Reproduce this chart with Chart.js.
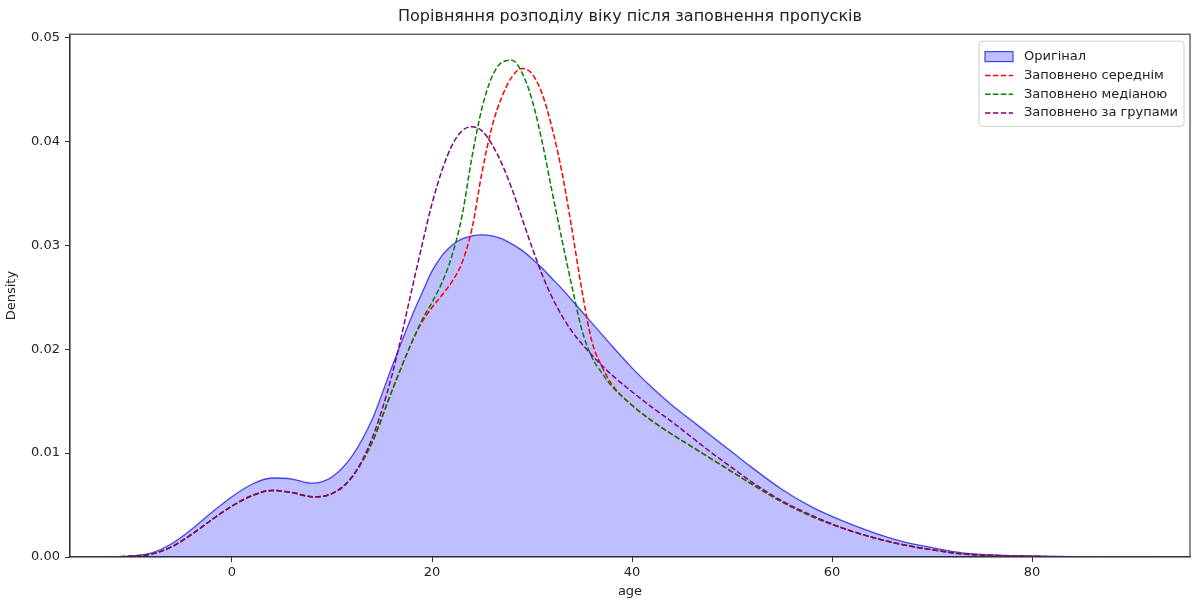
<!DOCTYPE html>
<html>
<head>
<meta charset="utf-8">
<script src="https://cdn.jsdelivr.net/npm/chart.js@4/dist/chart.umd.min.js"></script>
<style>
  html, body { margin: 0; padding: 0; background: #fff; }
  .chart { width: 1195px; height: 600px; }
</style>
</head>
<body>
<div class="chart"><canvas></canvas></div>
<script>
// KDE curves, age vs density
const ages = [-12, -10, -8, -6, -4, -2, 0, 2, 4, 6, 8, 10, 12, 14, 16, 18,
  19, 20, 21, 22, 23, 24, 25, 26, 27, 28, 29, 30, 31, 32, 33, 34, 35, 36, 37, 38,
  40, 42, 44, 46, 48, 50, 52, 55, 58, 61, 64, 67, 70, 73, 76, 80, 84, 88, 92];

const originalDensity = [0, 0.0001, 0.0004, 0.0013, 0.0027, 0.0043, 0.0058, 0.0070, 0.0076, 0.0075, 0.0071, 0.0077, 0.0097, 0.0132, 0.0183, 0.0232,
  0.0254, 0.0275, 0.0290, 0.0300, 0.0306, 0.0309, 0.0310, 0.0309, 0.0306, 0.0301, 0.0295, 0.0287, 0.0278, 0.0268, 0.0258, 0.0247, 0.0236, 0.0225, 0.0214, 0.0203,
  0.0182, 0.0163, 0.0146, 0.0131, 0.0116, 0.0101, 0.0086, 0.0065, 0.0048, 0.0035, 0.0024, 0.0015, 0.0009, 0.0004, 0.0002, 0.0001, 0.00003, 0.00001, 0];

const meanDensity = [0, 0.0001, 0.0003, 0.0010, 0.0022, 0.0036, 0.0049, 0.0059, 0.0064, 0.0062, 0.0058, 0.0061, 0.0077, 0.0110, 0.0160, 0.0207,
  0.0226, 0.0240, 0.0252, 0.0265, 0.0283, 0.0316, 0.0370, 0.0414, 0.0443, 0.0462, 0.0470, 0.0465, 0.0446, 0.0413, 0.0370, 0.0315, 0.0256, 0.0207, 0.0183, 0.0166,
  0.0146, 0.0131, 0.0118, 0.0106, 0.0094, 0.0082, 0.0070, 0.0053, 0.0039, 0.0028, 0.0019, 0.0012, 0.0007, 0.0003, 0.00015, 0.00005, 0.00002, 0.00001, 0];

const medianDensity = [0, 0.0001, 0.0003, 0.0010, 0.0022, 0.0036, 0.0049, 0.0059, 0.0064, 0.0062, 0.0058, 0.0061, 0.0077, 0.0110, 0.0160, 0.0207,
  0.0228, 0.0245, 0.0264, 0.0290, 0.0328, 0.0385, 0.0432, 0.0462, 0.0476, 0.0478, 0.0466, 0.0440, 0.0400, 0.0352, 0.0305, 0.0260, 0.0218, 0.0192, 0.0177, 0.0164,
  0.0146, 0.0131, 0.0118, 0.0106, 0.0094, 0.0082, 0.0070, 0.0053, 0.0039, 0.0028, 0.0019, 0.0012, 0.0007, 0.0003, 0.00015, 0.00005, 0.00002, 0.00001, 0];

const groupDensity = [0, 0.0001, 0.0003, 0.0010, 0.0022, 0.0036, 0.0049, 0.0059, 0.0064, 0.0062, 0.0058, 0.0061, 0.0077, 0.0114, 0.0175, 0.0258,
  0.0300, 0.0340, 0.0372, 0.0396, 0.0410, 0.0414, 0.0410, 0.0397, 0.0378, 0.0354, 0.0326, 0.0298, 0.0272, 0.0250, 0.0232, 0.0217, 0.0205, 0.0194, 0.0184, 0.0175,
  0.0159, 0.0144, 0.0130, 0.0115, 0.0100, 0.0086, 0.0072, 0.0054, 0.0040, 0.0028, 0.0019, 0.0012, 0.0007, 0.0003, 0.00015, 0.00005, 0.00002, 0.00001, 0];

const xTicks = [0, 20, 40, 60, 80];
const yTicks = [0, 0.01, 0.02, 0.03, 0.04, 0.05];

const labels = {
  original: "Оригінал",
  mean: "Заповнено середнім",
  median: "Заповнено медіаною",
  group: "Заповнено за групами",
};

const colors = {
  fill: "rgba(0, 0, 255, 0.25)",
  edge: "rgba(40, 40, 230, 0.85)",
  red: "#ff0000",
  green: "#008000",
  purple: "#800080",
  axis: "#333",
  text: "#222",
};

// kept outside the chart options so Chart.js does not wrap it in its resolver
const legendItems = [
  { text: labels.original, color: colors.edge, fill: colors.fill },
  { text: labels.mean, color: colors.red, fill: null },
  { text: labels.median, color: colors.green, fill: null },
  { text: labels.group, color: colors.purple, fill: null },
];

const toPoints = (ys) => ages.map((x, i) => ({ x: x, y: ys[i] }));
const dash = [5.5, 2.4];

Chart.defaults.font.family = "'DejaVu Sans', sans-serif";
Chart.defaults.color = colors.text;

// top and right spines, like matplotlib
const framePlugin = {
  id: "frame",
  afterDatasetsDraw(chart) {
    const { ctx, chartArea: a } = chart;
    ctx.save();
    ctx.strokeStyle = colors.axis;
    ctx.lineWidth = 1.1;
    ctx.strokeRect(a.left, a.top, a.right - a.left, a.bottom - a.top);
    ctx.restore();
  },
};

// legend box in the upper right corner of the plot
const legendPlugin = {
  id: "innerLegend",
  afterDraw(chart) {
    const { ctx, chartArea: a } = chart;
    ctx.save();
    ctx.font = "13px 'DejaVu Sans'";
    const textW = Math.max(...legendItems.map((it) => ctx.measureText(it.text).width));
    const handle = 28, gap = 11, pad = 6, row = 18.8;
    const w = pad + handle + gap + textW + pad;
    const h = pad + row * legendItems.length + 4;
    const right = a.right - 6;
    const left = right - w;
    const top = a.top + 7;

    ctx.fillStyle = "rgba(255,255,255,0.8)";
    ctx.strokeStyle = "#cccccc";
    ctx.lineWidth = 1;
    ctx.beginPath();
    ctx.roundRect(left, top, w, h, 3);
    ctx.fill();
    ctx.stroke();

    legendItems.forEach((it, i) => {
      const cy = top + pad + row * i + row / 2;
      const hx = left + pad;
      if (it.fill) {
        ctx.fillStyle = it.fill;
        ctx.fillRect(hx, cy - 5, handle, 10);
        ctx.strokeStyle = it.color;
        ctx.lineWidth = 1.2;
        ctx.setLineDash([]);
        ctx.strokeRect(hx, cy - 5, handle, 10);
      } else {
        ctx.strokeStyle = it.color;
        ctx.lineWidth = 1.5;
        ctx.setLineDash(dash);
        ctx.beginPath();
        ctx.moveTo(hx, cy);
        ctx.lineTo(hx + handle, cy);
        ctx.stroke();
      }
      ctx.setLineDash([]);
      ctx.fillStyle = colors.text;
      ctx.textBaseline = "middle";
      ctx.fillText(it.text, hx + handle + gap, cy);
    });
    ctx.restore();
  },
};

const ctx = document.querySelector(".chart canvas").getContext("2d");

new Chart(ctx, {
  type: "line",
  data: {
    datasets: [
      {
        label: labels.mean,
        data: toPoints(meanDensity),
        borderColor: colors.red,
        borderDash: dash,
        borderWidth: 1.5,
        order: 3,
      },
      {
        label: labels.median,
        data: toPoints(medianDensity),
        borderColor: colors.green,
        borderDash: dash,
        borderWidth: 1.5,
        order: 2,
      },
      {
        label: labels.group,
        data: toPoints(groupDensity),
        borderColor: colors.purple,
        borderDash: dash,
        borderWidth: 1.5,
        order: 1,
      },
      {
        label: labels.original,
        data: toPoints(originalDensity),
        borderColor: colors.edge,
        backgroundColor: colors.fill,
        borderWidth: 1.3,
        fill: "origin",
        order: 4,
      },
    ],
  },
  options: {
    animation: false,
    responsive: true,
    maintainAspectRatio: false,
    layout: { padding: { left: 0, right: 5, top: 0, bottom: 0 } },
    elements: {
      point: { radius: 0 },
      line: { cubicInterpolationMode: "monotone" },
    },
    plugins: {
      legend: { display: false },
      tooltip: { enabled: false },
      title: {
        display: true,
        fullSize: false,
        text: "Порівняння розподілу віку після заповнення пропусків",
        font: { size: 16, weight: "normal" },
        color: colors.text,
        padding: { top: 7, bottom: 8 },
      },
    },
    scales: {
      x: {
        type: "linear",
        min: -16.2,
        max: 95.8,
        afterBuildTicks: (scale) => {
          scale.ticks = xTicks.map((v) => ({ value: v }));
        },
        afterFit: (scale) => {
          scale.height = 43;
        },
        ticks: {
          font: { size: 13 },
          padding: 3,
          maxRotation: 0,
          callback: (v) => String(v),
        },
        grid: {
          drawOnChartArea: false,
          drawTicks: true,
          tickLength: 5,
          color: colors.axis,
        },
        border: { display: true, color: colors.axis, width: 1.1 },
        title: {
          display: true,
          text: "age",
          font: { size: 13 },
          padding: { top: 0, bottom: 1 },
        },
      },
      y: {
        min: 0,
        max: 0.0503,
        afterBuildTicks: (scale) => {
          scale.ticks = yTicks.map((v) => ({ value: v }));
        },
        afterFit: (scale) => {
          scale.width = 70;
        },
        ticks: {
          font: { size: 13 },
          padding: 5,
          callback: (v) => v.toFixed(2),
        },
        grid: {
          drawOnChartArea: false,
          drawTicks: true,
          tickLength: 5,
          color: colors.axis,
        },
        border: { display: true, color: colors.axis, width: 1.1 },
        title: {
          display: true,
          text: "Density",
          font: { size: 13 },
          padding: { top: 4, bottom: 0 },
        },
      },
    },
  },
  plugins: [framePlugin, legendPlugin],
});
</script>
</body>
</html>
